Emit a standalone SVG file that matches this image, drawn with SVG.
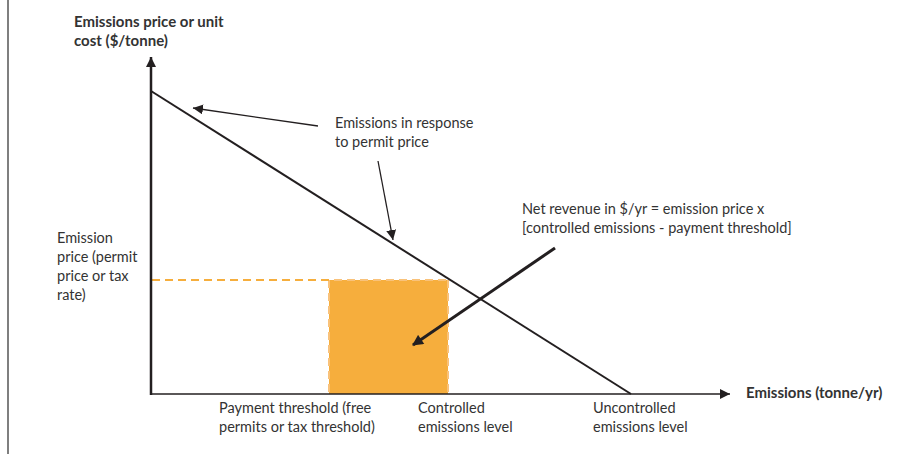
<svg xmlns="http://www.w3.org/2000/svg" width="911" height="454" viewBox="0 0 911 454">
<style>
text{font-family:Lato,"Open Sans","Liberation Sans",sans-serif;font-size:14.5px;fill:#333}
.b{font-weight:bold;font-size:15px}
.ln{stroke:#231f20;fill:none}
</style>
<defs>
<marker id="ah" viewBox="0 0 10 10" refX="10" refY="5" markerWidth="10" markerHeight="10" markerUnits="userSpaceOnUse" orient="auto"><path d="M0,0 L10,5 L0,10 z" fill="#231f20"/></marker>
<marker id="ahs" viewBox="0 0 10 10" refX="9" refY="5" markerWidth="13" markerHeight="11" markerUnits="userSpaceOnUse" orient="auto"><path d="M0,0 L10,5 L0,10 z" fill="#231f20"/></marker>
</defs>
<rect width="911" height="454" fill="#fff"/>
<line x1="8" y1="0" x2="8" y2="454" stroke="#555" stroke-width="1.5"/>
<g id="revenue-area">
<rect x="329" y="280" width="119" height="114" fill="#f6ae3d"/>
<path d="M152,280 H448 M329,280 V394 M448,280 V394" stroke="#f9c27a" stroke-width="2" stroke-dasharray="8,5" fill="none"/>
<path d="M152,280 H329" stroke="#f6ae3d" stroke-width="2" stroke-dasharray="8,5" fill="none"/>
</g>
<g id="axes">
<line class="ln" x1="151" y1="395" x2="151" y2="57" stroke-width="2.5" marker-end="url(#ah)"/>
<line class="ln" x1="150" y1="394" x2="730" y2="394" stroke-width="1.5" marker-end="url(#ah)"/>
</g>
<g id="demand-curve">
<line class="ln" x1="151" y1="91" x2="631" y2="394" stroke-width="2"/>
</g>
<g id="connectors">
<line class="ln" x1="318" y1="126" x2="193" y2="108" stroke-width="1.3" marker-end="url(#ah)"/>
<line class="ln" x1="378" y1="161" x2="393" y2="240" stroke-width="1.3" marker-end="url(#ah)"/>
<line class="ln" x1="555" y1="248" x2="413" y2="345" stroke-width="3" marker-end="url(#ahs)"/>
</g>
<g id="labels">
<text class="b" x="74" y="27">Emissions price or unit</text>
<text class="b" x="74" y="46">cost ($/tonne)</text>
<text x="335" y="128">Emissions in response</text>
<text x="335" y="147">to permit price</text>
<text x="522" y="214">Net revenue in $/yr = emission price x</text>
<text x="522" y="233">[controlled emissions - payment threshold]</text>
<text x="57" y="243">Emission</text>
<text x="57" y="262">price (permit</text>
<text x="57" y="281">price or tax</text>
<text x="57" y="300">rate)</text>
<text class="b" x="746" y="398">Emissions (tonne/yr)</text>
<text x="219" y="413">Payment threshold (free</text>
<text x="219" y="432">permits or tax threshold)</text>
<text x="418" y="413">Controlled</text>
<text x="418" y="432">emissions level</text>
<text x="593" y="413">Uncontrolled</text>
<text x="593" y="432">emissions level</text>
</g>
</svg>
